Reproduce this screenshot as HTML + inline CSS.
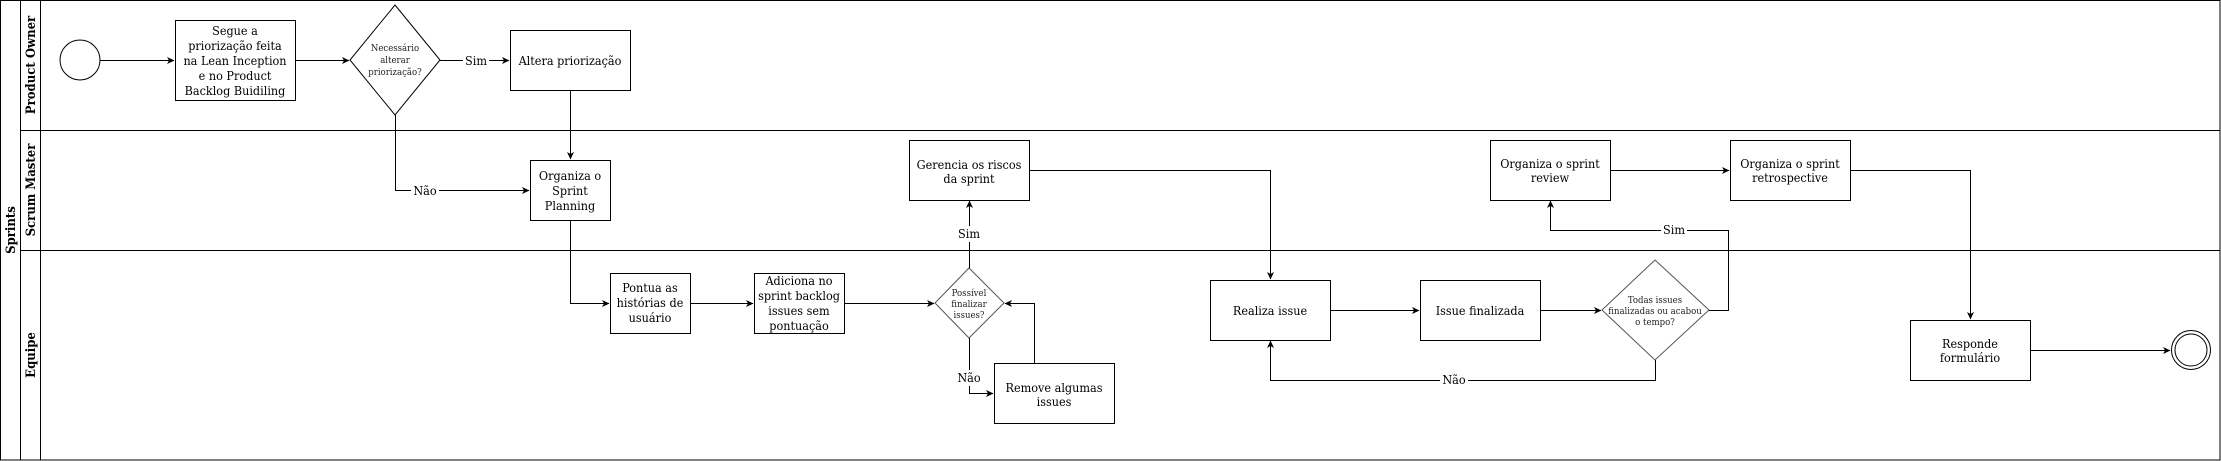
<!DOCTYPE html>
<html><head><meta charset="utf-8"><style>
html,body{margin:0;padding:0;background:#fff;}
svg{display:block;}
text{font-family:"DejaVu Serif Condensed","DejaVu Serif","Liberation Serif",serif;font-size:12.5px;fill:#000;}
.s{font-size:9.5px;fill:#222;}
.b{font-weight:bold;font-size:13px;}
</style></head><body>
<svg width="2221" height="461" viewBox="0 0 2221 461" xmlns="http://www.w3.org/2000/svg">
<defs><marker id="a" markerWidth="8" markerHeight="8" refX="7" refY="4" orient="auto" markerUnits="userSpaceOnUse"><path d="M0,0.5 L7.5,4 L0,7.5 L2,4 z" fill="#000"/></marker></defs>
<g fill="none" stroke="#000" stroke-width="1">
<rect x="0.5" y="0.5" width="2219.5" height="459.5"/>
<line x1="20.5" y1="0" x2="20.5" y2="460"/>
<line x1="40.5" y1="0" x2="40.5" y2="460"/>
<line x1="20" y1="130.5" x2="2220" y2="130.5"/>
<line x1="20" y1="250.5" x2="2220" y2="250.5"/>
<!-- nodes -->
<circle cx="80" cy="60" r="20"/>
<rect x="175.5" y="20.5" width="120" height="80"/>
<polygon points="395,5 440,60 395,115 350,60"/>
<rect x="510.5" y="30.5" width="120" height="60"/>
<rect x="530.5" y="160.5" width="80" height="60"/>
<rect x="610.5" y="273.5" width="80" height="60"/>
<rect x="754.5" y="273.5" width="90" height="60"/>
<polygon points="969,268 1004,303 969,338 935,303" stroke="#555"/>
<rect x="909.5" y="140.5" width="120" height="60"/>
<rect x="994.5" y="363.5" width="120" height="60"/>
<rect x="1210.5" y="280.5" width="120" height="60"/>
<rect x="1420.5" y="280.5" width="120" height="60"/>
<polygon points="1655,260 1709,310 1655,360 1602,310" stroke="#555"/>
<rect x="1490.5" y="140.5" width="120" height="60"/>
<rect x="1730.5" y="140.5" width="120" height="60"/>
<rect x="1910.5" y="320.5" width="120" height="60"/>
<circle cx="2191" cy="350" r="19.5"/>
<circle cx="2191" cy="350" r="16"/>
<!-- edges -->
<path d="M100,60.5 H174" marker-end="url(#a)"/>
<path d="M296,60.5 H349" marker-end="url(#a)"/>
<path d="M440,60.5 H509" marker-end="url(#a)"/>
<path d="M570.5,91 V159" marker-end="url(#a)"/>
<path d="M395.5,115 V190.5 H529" marker-end="url(#a)"/>
<path d="M570.5,221 V303.5 H609" marker-end="url(#a)"/>
<path d="M691,303.5 H753" marker-end="url(#a)"/>
<path d="M845,303.5 H934" marker-end="url(#a)"/>
<path d="M969.5,268 V201" marker-end="url(#a)"/>
<path d="M969.5,338 V393.5 H993" marker-end="url(#a)"/>
<path d="M1034.5,363 V303.5 H1005" marker-end="url(#a)"/>
<path d="M1030,170.5 H1270.5 V279" marker-end="url(#a)"/>
<path d="M1331,310.5 H1419" marker-end="url(#a)"/>
<path d="M1541,310.5 H1601" marker-end="url(#a)"/>
<path d="M1709,310.5 H1728.5 V230.5 H1550.5 V201" marker-end="url(#a)"/>
<path d="M1655.5,360 V380.5 H1270.5 V341" marker-end="url(#a)"/>
<path d="M1611,170.5 H1729" marker-end="url(#a)"/>
<path d="M1851,170.5 H1970.5 V319" marker-end="url(#a)"/>
<path d="M2031,350.5 H2170" marker-end="url(#a)"/>
</g>
<!-- label backgrounds -->
<g fill="#fff">
<rect x="463" y="52" width="26" height="16"/>
<rect x="411" y="182" width="28" height="16"/>
<rect x="956" y="226" width="26" height="16"/>
<rect x="955" y="370" width="28" height="16"/>
<rect x="1661" y="222" width="26" height="16"/>
<rect x="1440" y="372" width="28" height="16"/>
</g>
<g text-anchor="middle">
<text class="b" transform="translate(15,230) rotate(-90)">Sprints</text>
<text class="b" transform="translate(35,65) rotate(-90)">Product Owner</text>
<text class="b" transform="translate(35,190) rotate(-90)">Scrum Master</text>
<text class="b" transform="translate(35,355) rotate(-90)">Equipe</text>
<text x="235" y="35">Segue a</text>
<text x="235" y="50">priorização feita</text>
<text x="235" y="65">na Lean Inception</text>
<text x="235" y="80">e no Product</text>
<text x="235" y="95">Backlog Buidiling</text>
<text class="s" x="395" y="51">Necessário</text>
<text class="s" x="395" y="63">alterar</text>
<text class="s" x="395" y="75">priorização?</text>
<text x="476" y="65">Sim</text>
<text x="570" y="65">Altera priorização</text>
<text x="425" y="195">Não</text>
<text x="570" y="180">Organiza o</text>
<text x="570" y="195">Sprint</text>
<text x="570" y="210">Planning</text>
<text x="650" y="292">Pontua as</text>
<text x="650" y="307">histórias de</text>
<text x="650" y="322">usuário</text>
<text x="799" y="285">Adiciona no</text>
<text x="799" y="300">sprint backlog</text>
<text x="799" y="315">issues sem</text>
<text x="799" y="330">pontuação</text>
<text class="s" x="969" y="296">Possível</text>
<text class="s" x="969" y="307">finalizar</text>
<text class="s" x="969" y="318">issues?</text>
<text x="969" y="169">Gerencia os riscos</text>
<text x="969" y="183">da sprint</text>
<text x="969" y="238">Sim</text>
<text x="969" y="382">Não</text>
<text x="1054" y="392">Remove algumas</text>
<text x="1054" y="406">issues</text>
<text x="1270" y="315">Realiza issue</text>
<text x="1480" y="315">Issue finalizada</text>
<text class="s" x="1655" y="303">Todas issues</text>
<text class="s" x="1655" y="314">finalizadas ou acabou</text>
<text class="s" x="1655" y="325">o tempo?</text>
<text x="1674" y="234">Sim</text>
<text x="1454" y="384">Não</text>
<text x="1550" y="168">Organiza o sprint</text>
<text x="1550" y="182">review</text>
<text x="1790" y="168">Organiza o sprint</text>
<text x="1790" y="182">retrospective</text>
<text x="1970" y="348">Responde</text>
<text x="1970" y="362">formulário</text>
</g>
</svg>
</body></html>
